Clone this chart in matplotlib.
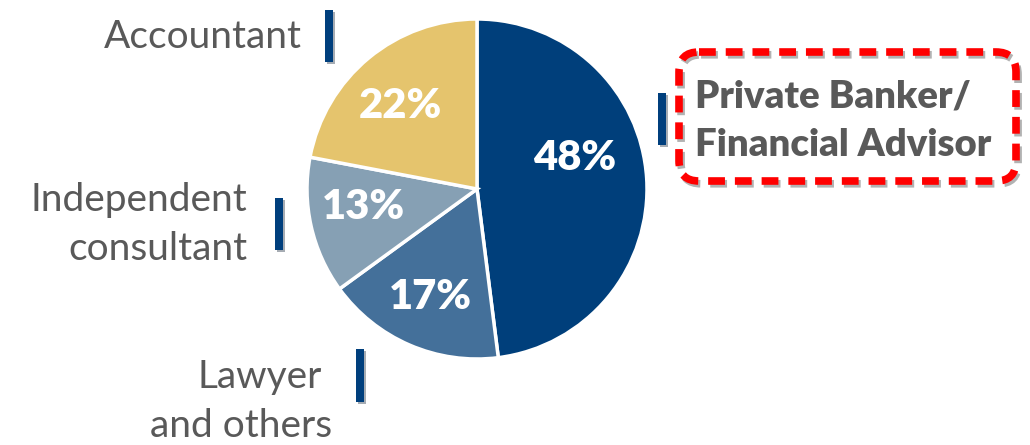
import matplotlib
matplotlib.use("Agg")
import matplotlib.pyplot as plt
from matplotlib.patches import FancyBboxPatch, Rectangle
import matplotlib.patheffects as pe

# ---- data ----
categories = ["Private Banker/\nFinancial Advisor", "Lawyer\nand others",
              "Independent\nconsultant", "Accountant"]
values = [48, 17, 13, 22]
colors = ["#003F7B", "#44709A", "#86A0B4", "#E5C46D"]

TEXT_GREY = "#595959"
BAR_BLUE = "#003F7D"
FONT = "Lato"

W, H = 1030, 445
fig = plt.figure(figsize=(W / 100, H / 100), dpi=100)
ax = fig.add_axes([0, 0, 1, 1])

# pie (clockwise from top on screen; y axis is inverted)
cx, cy, r = 477, 189, 170
wedges, _ = ax.pie(values, colors=colors, startangle=-90, counterclock=True,
                   center=(cx, cy), radius=r, frame=True,
                   wedgeprops=dict(edgecolor="white", linewidth=2.5))
ax.set_xlim(0, W)
ax.set_ylim(H, 0)
ax.set_aspect("equal")
ax.axis("off")

# percentage labels (layout positions)
pct_pos = [(575, 158), (430, 297), (363, 207), (400, 106)]
for v, (x, y) in zip(values, pct_pos):
    ax.text(x, y, f"{v}%", ha="center", va="center", color="white",
            fontsize=30, fontweight="heavy", family=FONT)

shadow = [pe.SimplePatchShadow(offset=(1.5, -1.5), alpha=0.35), pe.Normal()]

# marker bars next to category labels (x, y_top, y_bottom)
bars = [(662, 93, 145), (360, 349, 402), (279, 198, 250), (329, 10, 62)]
for (bx, y0, y1) in bars:
    rect = Rectangle((bx - 4, y0), 8, y1 - y0, facecolor=BAR_BLUE,
                     edgecolor="none")
    rect.set_path_effects(shadow)
    ax.add_patch(rect)

FS = 28
# Accountant
ax.text(302, 37, categories[3], ha="right", va="center", color=TEXT_GREY,
        fontsize=FS, family=FONT)
# Independent consultant
l1, l2 = categories[2].split("\n")
ax.text(247, 200, l1, ha="right", va="center", color=TEXT_GREY,
        fontsize=FS, family=FONT)
ax.text(247, 249, l2, ha="right", va="center", color=TEXT_GREY,
        fontsize=FS, family=FONT)
# Lawyer and others
l1, l2 = categories[1].split("\n")
ax.text(322, 377, l1, ha="right", va="center", color=TEXT_GREY,
        fontsize=FS, family=FONT)
ax.text(332, 426, l2, ha="right", va="center", color=TEXT_GREY,
        fontsize=FS, family=FONT)
# Private Banker / Financial Advisor (highlighted)
l1, l2 = categories[0].split("\n")
ax.text(695, 96, l1, ha="left", va="center", color=TEXT_GREY,
        fontsize=27.5, fontweight="heavy", family=FONT)
ax.text(695, 145, l2, ha="left", va="center", color=TEXT_GREY,
        fontsize=27.5, fontweight="heavy", family=FONT)

box = FancyBboxPatch((679, 52), 337, 129,
                     boxstyle="round,pad=0,rounding_size=20",
                     facecolor="none", edgecolor="#FF0000", linewidth=5.5,
                     linestyle=(0, (2.2, 1.3)))
box.set_path_effects([pe.SimpleLineShadow(offset=(1.5, -2), alpha=0.3),
                      pe.Normal()])
ax.add_patch(box)

fig.savefig("out.png", dpi=100)
